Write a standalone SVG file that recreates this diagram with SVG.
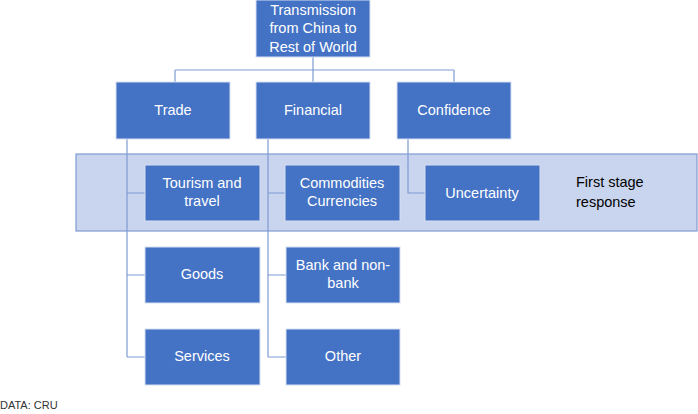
<svg xmlns="http://www.w3.org/2000/svg" width="698" height="414" viewBox="0 0 698 414">
<style>
.box{fill:#4472C4;stroke:#D6E0F2;stroke-width:1}
.t{font-family:"Liberation Sans",Arial,sans-serif;font-size:14.5px;fill:#FFFFFF;text-anchor:middle}
.c{fill:none;stroke:#7F9BD3;stroke-width:1.2}
</style>
<rect width="698" height="414" fill="#FFFFFF"/>
<g id="band">
<rect x="76" y="154" width="621" height="77" fill="#C9D5EE" stroke="#7F9BD3" stroke-width="1.2"/>
</g>
<g id="connectors">
<path class="c" d="M313 57V70M175 70H454M175 70V82M313 70V82M454 70V82"/>
<path class="c" d="M127 139V357M127 193H145M127 275H145M127 357H145"/>
<path class="c" d="M268 139V357M268 193H285M268 275H286M268 357H286"/>
<path class="c" d="M408 139V193H425"/>
</g>
<g id="root"><rect class="box" x="256" y="0" width="114" height="57"/>
<text class="t" x="313" y="15">Transmission</text><text class="t" x="313" y="33">from China to</text><text class="t" x="313" y="52">Rest of World</text></g>
<g id="trade"><rect class="box" x="116" y="82" width="114" height="57"/><text class="t" x="173" y="115">Trade</text></g>
<g id="financial"><rect class="box" x="256" y="82" width="114" height="57"/><text class="t" x="313" y="115">Financial</text></g>
<g id="confidence"><rect class="box" x="397" y="82" width="114" height="57"/><text class="t" x="454" y="115">Confidence</text></g>
<g id="tourism"><rect class="box" x="145" y="165" width="115" height="56"/><text class="t" x="202" y="188">Tourism and</text><text class="t" x="202" y="206">travel</text></g>
<g id="commodities"><rect class="box" x="285" y="165" width="115" height="56"/><text class="t" x="342" y="188">Commodities</text><text class="t" x="342" y="206">Currencies</text></g>
<g id="uncertainty"><rect class="box" x="425" y="165" width="115" height="56"/><text class="t" x="482" y="198">Uncertainty</text></g>
<g id="firststage"><text class="t" x="576" y="187" style="fill:#000000;text-anchor:start">First stage</text><text class="t" x="576" y="207" style="fill:#000000;text-anchor:start">response</text></g>
<g id="goods"><rect class="box" x="145" y="247" width="115" height="56"/><text class="t" x="202" y="279">Goods</text></g>
<g id="bank"><rect class="box" x="286" y="247" width="114" height="56"/><text class="t" x="343" y="270">Bank and non-</text><text class="t" x="343" y="288">bank</text></g>
<g id="services"><rect class="box" x="145" y="329" width="115" height="56"/><text class="t" x="202" y="361">Services</text></g>
<g id="other"><rect class="box" x="286" y="329" width="114" height="56"/><text class="t" x="343" y="361">Other</text></g>
<text x="0" y="409" font-family="Liberation Sans,Arial,sans-serif" font-size="11" fill="#333333">DATA: CRU</text>
</svg>
